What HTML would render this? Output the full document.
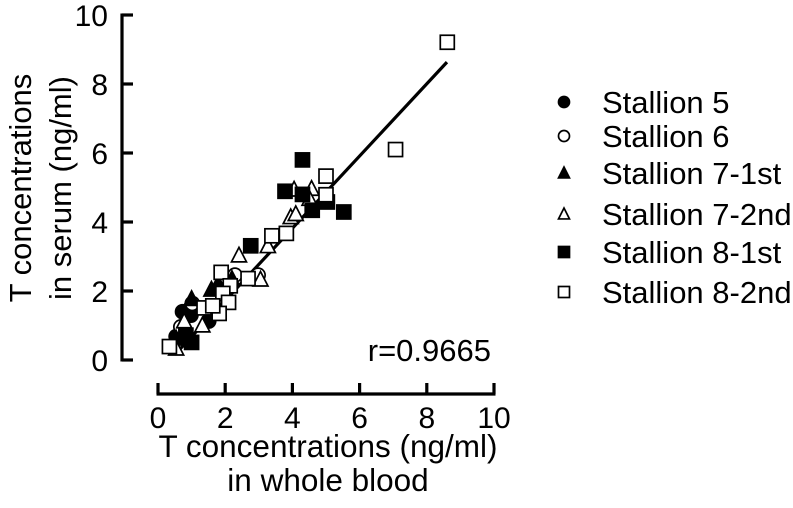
<!DOCTYPE html>
<html><head><meta charset="utf-8">
<style>
html,body{margin:0;padding:0;background:#fff;}
svg{display:block;font-family:"Liberation Sans",Arial,sans-serif;}
</style></head>
<body>
<svg id="chart" width="793" height="508" viewBox="0 0 793 508" xmlns="http://www.w3.org/2000/svg">
<g id="axes"></g>
<g id="marks"></g>
<g id="legend"></g>
<text transform="translate(31,188) rotate(-90)" text-anchor="middle" font-size="31">T concentrations</text>
<text transform="translate(71,188) rotate(-90)" text-anchor="middle" font-size="31">in serum (ng/ml)</text>
<text x="328" y="457" text-anchor="middle" font-size="31.5">T concentrations (ng/ml)</text>
<text x="328" y="491" text-anchor="middle" font-size="31.5">in whole blood</text>
<text x="491" y="361" text-anchor="end" font-size="31">r=0.9665</text>
</svg>
<script>
const xTicks = [0, 2, 4, 6, 8, 10];
const yTicks = [0, 2, 4, 6, 8, 10];
const seriesNames = ["Stallion 5", "Stallion 6", "Stallion 7-1st", "Stallion 7-2nd", "Stallion 8-1st", "Stallion 8-2nd"];
const s5x = [0.73, 1.51, 0.98, 0.54, 0.78];
const s5y = [1.40, 1.13, 1.30, 0.68, 0.87];
const s6x = [2.98, 2.29, 1.02, 0.68];
const s6y = [2.46, 2.46, 1.64, 0.96];
const s71x = [1.00, 1.59, 1.79, 2.20, 0.54];
const s71y = [1.78, 2.05, 2.22, 2.36, 0.63];
const s72x = [4.05, 4.57, 4.51, 3.95, 4.10, 3.27, 2.41, 3.05, 1.32, 0.78, 0.54];
const s72y = [4.95, 4.97, 4.68, 4.15, 4.24, 3.31, 3.04, 2.34, 1.01, 1.13, 0.34];
const s81x = [3.78, 4.30, 4.30, 4.59, 5.04, 5.53, 2.76, 1.00, 0.83];
const s81y = [4.89, 5.80, 4.80, 4.34, 4.58, 4.29, 3.31, 0.51, 0.72];
const s82x = [8.61, 7.07, 5.00, 5.00, 3.82, 3.39, 2.68, 1.88, 2.15, 1.93, 2.10, 1.82, 1.37, 0.34, 1.63];
const s82y = [9.21, 6.10, 5.33, 4.79, 3.67, 3.60, 2.36, 2.54, 2.15, 1.93, 1.67, 1.35, 1.51, 0.39, 1.57];
const fitX = [0.5, 8.6];
const fitSlope = 1.047;
const fitIntercept = -0.37;

const NS = "http://www.w3.org/2000/svg";
const X0 = 158, X1 = 494, Y0 = 360, Y1 = 15;
function sx(v){ return X0 + (X1 - X0) * v / 10; }
function sy(v){ return Y0 - (Y0 - Y1) * v / 10; }
function mk(tag, attrs, parent){
  const e = document.createElementNS(NS, tag);
  for (const k in attrs) e.setAttribute(k, attrs[k]);
  parent.appendChild(e);
  return e;
}
const axes = document.getElementById("axes");
const AX = 122, AY = 394;
let l = mk("line", {x1:AX, y1:sy(10)-1.5, x2:AX, y2:sy(0)+1.5, stroke:"#000", "stroke-width":3.2}, axes);


yTicks.forEach(t => {
  const tk = mk("line", {x1:AX, y1:sy(t), x2:AX+11, y2:sy(t), stroke:"#000", "stroke-width":3.2}, axes);
  
  
  const tx = mk("text", {x:AX-14, y:sy(t)+11, "text-anchor":"end", "font-size":30}, axes);
  tx.textContent = t;
  
  
});
l = mk("line", {x1:sx(0)-1.5, y1:AY, x2:sx(10)+1.5, y2:AY, stroke:"#000", "stroke-width":3.2}, axes);


xTicks.forEach(t => {
  const tk = mk("line", {x1:sx(t), y1:AY, x2:sx(t), y2:AY-11, stroke:"#000", "stroke-width":3.2}, axes);
  
  
  const tx = mk("text", {x:sx(t), y:AY+34, "text-anchor":"middle", "font-size":30}, axes);
  tx.textContent = t;
  
  
});

const marks = document.getElementById("marks");
const fit = mk("line", {x1:sx(fitX[0]), y1:sy(fitSlope*fitX[0]+fitIntercept), x2:sx(fitX[1]), y2:sy(fitSlope*fitX[1]+fitIntercept), stroke:"#000", "stroke-width":3.2}, marks);



function marker(kind, filled, cx, cy, size, parent){
  const fill = filled ? "#000" : "#fff";
  const a = {fill:fill, stroke:"#000", "stroke-width":1.7};
  let e;
  if (kind === "circle") { a.cx = cx; a.cy = cy; a.r = size/2; e = mk("circle", a, parent); }
  else if (kind === "square") { a.x = cx-size/2; a.y = cy-size/2; a.width = size; a.height = size; e = mk("rect", a, parent); }
  else { const h = size*0.9; a.points = `${cx},${cy-h/2-1} ${cx-size/2},${cy+h/2} ${cx+size/2},${cy+h/2}`; e = mk("polygon", a, parent); }
  return e;
}
const kinds = ["circle","circle","triangle","triangle","square","square"];
const filledFlags = [true,false,true,false,true,false];
const allX = [s5x, s6x, s71x, s72x, s81x, s82x];
const allY = [s5y, s6y, s71y, s72y, s81y, s82y];
allX.forEach((xs, i) => {
  xs.forEach((v, j) => {
    const p = marker(kinds[i], filledFlags[i], sx(v), sy(allY[i][j]), kinds[i]==="triangle"?15:14, marks);
    
    
  });
});

const legend = document.getElementById("legend");
const legY = [102, 136, 173, 214, 252, 292];
seriesNames.forEach((n, i) => {
  const m = marker(kinds[i], filledFlags[i], 564, legY[i], 11, legend);
  
  
  const t = mk("text", {x:602, y:legY[i]+11, "font-size":31}, legend);
  t.textContent = n;
  
  
});
</script>
</body></html>
